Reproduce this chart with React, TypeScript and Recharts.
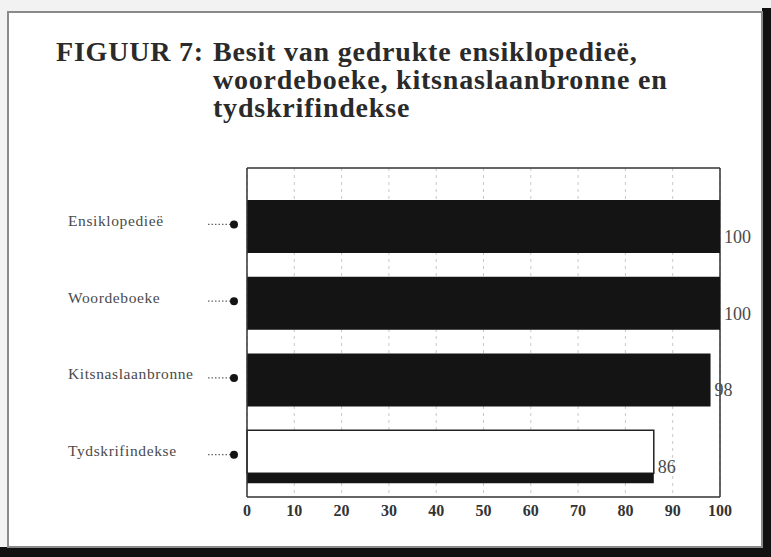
import { BarChart, Bar, XAxis, YAxis, CartesianGrid, LabelList } from 'recharts';

const categories = ['Ensiklopedieë', 'Woordeboeke', 'Kitsnaslaanbronne', 'Tydskrifindekse'];
const values = [100, 100, 98, 86];
const xTicks = [0, 10, 20, 30, 40, 50, 60, 70, 80, 90, 100];

const titleLead = 'FIGUUR 7:';
const titleLines = ['Besit van gedrukte ensiklopedieë,', 'woordeboeke, kitsnaslaanbronne en', 'tydskrifindekse'];

const data = categories.map((name, i) => ({ name, value: values[i] }));

// the last bar is printed as an open box with a dark base strip
const openBars = new Set(['Tydskrifindekse']);

const SERIF = '"Liberation Serif", "Times New Roman", serif';
const INK = '#141414';
const FRAME = '#333';

function CategoryTick(props: any) {
  const { y, payload } = props;
  return (
    <g>
      <text x={68} y={y - 4} fill="#4a4a4a" fontSize={15.5} fontFamily={SERIF} dominantBaseline="middle" letterSpacing={0.6}>
        {payload.value}
      </text>
      <line x1={208} x2={231} y1={y - 2} y2={y - 2} stroke="#666" strokeWidth={1.4} strokeDasharray="1.5 2" />
      <circle cx={234} cy={y - 2} r={4} fill={INK} />
    </g>
  );
}

function BarShape(props: any) {
  const { x, y, width, height, payload } = props;
  if (openBars.has(payload.name)) {
    const strip = 10;
    return (
      <g>
        <rect x={x} y={y} width={width} height={height - strip} fill="#fff" stroke="#222" strokeWidth={1.5} />
        <rect x={x} y={y + height - strip} width={width} height={strip} fill={INK} />
      </g>
    );
  }
  return <rect x={x} y={y} width={width} height={height} fill={INK} />;
}

function ValueLabel(props: any) {
  const { x, y, width, height, value } = props;
  return (
    <text x={x + width + 4} y={y + height * 0.73} fill="#4a4a4a" fontSize={18} fontFamily={SERIF} dominantBaseline="middle">
      {value}
    </text>
  );
}

export default function App() {
  return (
    <div style={{ position: 'absolute', left: 0, top: 0, width: 771, height: 557, background: '#f2f2f2', overflow: 'hidden' }}>
      <div style={{ position: 'absolute', left: 762, top: 8, width: 9, height: 549, background: '#111' }} />
      <div style={{ position: 'absolute', left: 0, top: 547, width: 771, height: 10, background: '#111' }} />
      <div style={{ position: 'absolute', left: 7, top: 11, width: 756, height: 537, boxSizing: 'border-box', border: '2px solid #8a8a8a', background: '#fff' }} />

      <div style={{ position: 'absolute', left: 56, top: 38, display: 'flex', fontFamily: SERIF, fontWeight: 'bold', fontSize: 28, lineHeight: '28px', letterSpacing: 0.8, color: '#2a2a2a' }}>
        <div style={{ width: 157, whiteSpace: 'pre' }}>{titleLead}</div>
        <div>
          {titleLines.map((t) => (
            <div key={t}>{t}</div>
          ))}
        </div>
      </div>

      <div style={{ position: 'absolute', left: 0, top: 0 }}>
        <BarChart width={771} height={557} data={data} layout="vertical" margin={{ top: 168, right: 51, bottom: 30, left: 47 }} barSize={53}>
          <CartesianGrid horizontal={false} stroke="#c8c8c8" strokeDasharray="3 4" />
          <XAxis
            type="number"
            domain={[0, 100]}
            ticks={xTicks}
            height={30}
            tickLine={false}
            axisLine={{ stroke: FRAME, strokeWidth: 1.5 }}
            tick={{ fill: '#333', fontSize: 16, fontWeight: 'bold', fontFamily: SERIF }}
          />
          <YAxis
            type="category"
            dataKey="name"
            width={200}
            padding={{ top: 20, bottom: 2 }}
            tickLine={false}
            axisLine={{ stroke: FRAME, strokeWidth: 1.5 }}
            tick={<CategoryTick />}
          />
          <Bar dataKey="value" shape={<BarShape />} isAnimationActive={false}>
            <LabelList dataKey="value" content={<ValueLabel />} />
          </Bar>
          {/* closes the plot box along its top and right edges */}
          <CartesianGrid
            stroke={FRAME}
            strokeWidth={1.5}
            fill="none"
            horizontalCoordinatesGenerator={({ offset }: any) => [offset.top]}
            verticalCoordinatesGenerator={({ offset }: any) => [offset.left + offset.width]}
          />
        </BarChart>
      </div>
    </div>
  );
}
